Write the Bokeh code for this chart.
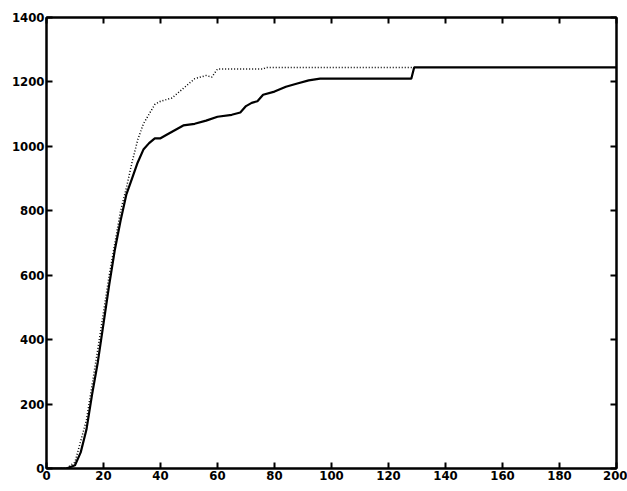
from bokeh.plotting import figure
from bokeh.models import LinearAxis, FixedTicker, Range1d
from bokeh.embed import file_html
from bokeh.resources import INLINE

# solid curve
solid_x = [0, 7, 10, 12, 14, 16, 18, 20, 22, 24, 26, 28, 30, 32, 34, 36, 38, 40, 42, 45, 48,
           52, 56, 60, 65, 68, 70, 72, 74, 76, 80, 84, 88, 92, 96, 128, 129, 200]
solid_y = [0, 0, 10, 50, 120, 230, 330, 450, 570, 680, 770, 850, 900, 950, 990, 1010, 1025, 1025, 1035, 1050, 1065,
           1070, 1080, 1092, 1098, 1105, 1125, 1135, 1140, 1160, 1170, 1185, 1195, 1205, 1210, 1210, 1245, 1245]

# dotted curve
dot_x = [5, 7, 10, 14, 18, 22, 26, 28, 30, 32, 34, 36, 38, 40, 44, 48, 52, 56, 58, 60, 76, 77, 129]
dot_y = [0, 0, 20, 150, 370, 600, 800, 870, 950, 1020, 1070, 1100, 1130, 1140, 1150, 1180, 1210, 1220, 1215, 1240, 1240, 1245, 1245]

x_ticks = list(range(0, 201, 20))
y_ticks = list(range(0, 1401, 200))

p = figure(width=627, height=491, output_backend="svg", toolbar_location=None,
           x_range=Range1d(0, 200), y_range=Range1d(0, 1400),
           min_border_left=46, min_border_right=11, min_border_top=17, min_border_bottom=23)
p.grid.visible = False
p.outline_line_color = "black"
p.outline_line_width = 2

p.line(dot_x, dot_y, line_color="black", line_width=1.5, line_dash="1 2")
p.line(solid_x, solid_y, line_color="black", line_width=2.2)

font = "DejaVu Sans Condensed"
for ax in p.xaxis + p.yaxis:
    ax.ticker = FixedTicker(ticks=x_ticks if ax in p.xaxis else y_ticks)
    ax.major_tick_in = 6
    ax.major_tick_out = 0
    ax.minor_tick_line_color = None
    ax.axis_line_width = 2
    ax.major_tick_line_width = 2
    ax.major_label_text_font = font
    ax.major_label_text_font_style = "bold"
    ax.major_label_text_font_size = "13px"
    ax.major_label_text_color = "black"
    ax.major_label_standoff = 2

top = LinearAxis(ticker=FixedTicker(ticks=x_ticks), major_label_overrides={t: "" for t in x_ticks},
                 major_tick_in=6, major_tick_out=0, minor_tick_line_color=None,
                 axis_line_width=2, major_tick_line_width=2)
right = LinearAxis(ticker=FixedTicker(ticks=y_ticks), major_label_overrides={t: "" for t in y_ticks},
                   major_tick_in=6, major_tick_out=0, minor_tick_line_color=None,
                   axis_line_width=2, major_tick_line_width=2)
p.add_layout(top, "above")
p.add_layout(right, "right")

open("out.html", "w").write(file_html(p, INLINE))
